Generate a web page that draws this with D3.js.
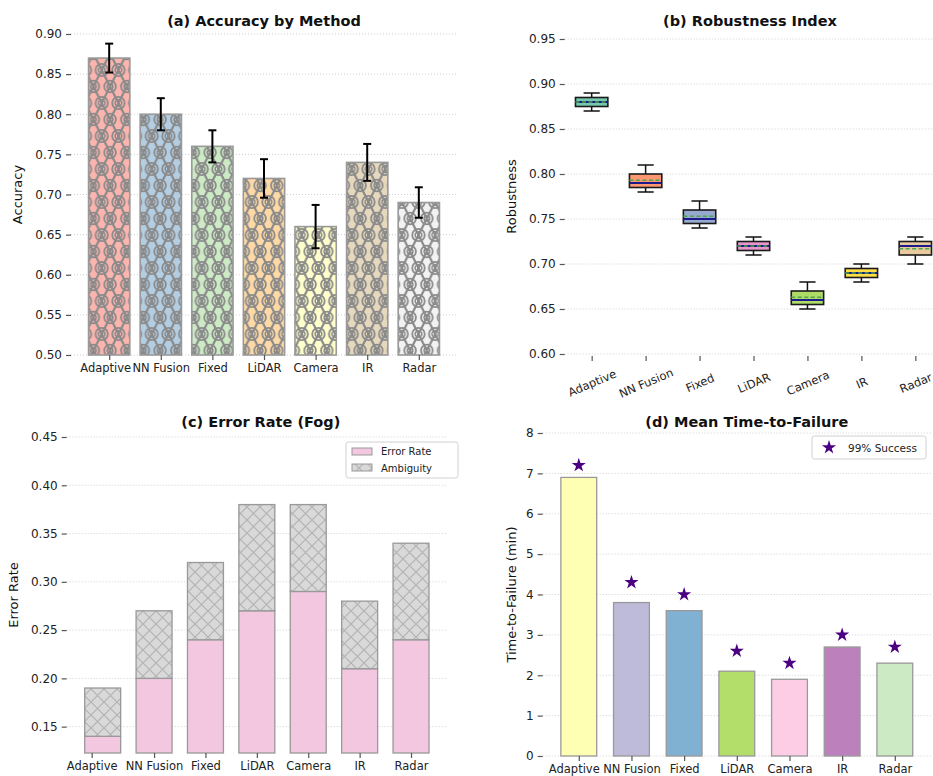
<!DOCTYPE html>
<html>
<head>
<meta charset="utf-8">
<script src="https://cdn.jsdelivr.net/npm/d3@7"></script>
<style>
  html, body { margin: 0; padding: 0; background: #ffffff; }
  svg { display: block; font-family: "DejaVu Sans", Verdana, sans-serif; }
</style>
</head>
<body>
<svg id="chart" width="933" height="776"></svg>
<script>
// ---- data ----
const methods = ["Adaptive", "NN Fusion", "Fixed", "LiDAR", "Camera", "IR", "Radar"];

// (a) accuracy with error bars
const accuracy    = [0.87, 0.80, 0.76, 0.72, 0.66, 0.74, 0.69];
const accuracyErr = [0.018, 0.020, 0.020, 0.024, 0.027, 0.023, 0.019];
const accuracyTicks = [0.50, 0.55, 0.60, 0.65, 0.70, 0.75, 0.80, 0.85, 0.90];
const accuracyColors = ["#fbb4ae", "#b3cde3", "#ccebc5", "#fed9a6", "#ffffcc", "#e5d8bd", "#f2f2f2"];

// (b) robustness box statistics
const robustLow    = [0.870, 0.780, 0.740, 0.710, 0.650, 0.680, 0.700];
const robustQ1     = [0.875, 0.785, 0.745, 0.715, 0.655, 0.685, 0.710];
const robustMedian = [0.880, 0.790, 0.750, 0.720, 0.660, 0.690, 0.720];
const robustQ3     = [0.885, 0.800, 0.760, 0.725, 0.670, 0.695, 0.725];
const robustHigh   = [0.890, 0.810, 0.770, 0.730, 0.680, 0.700, 0.730];
const robustMean   = [0.880, 0.793, 0.753, 0.720, 0.663, 0.690, 0.717];
const robustTicks  = [0.60, 0.65, 0.70, 0.75, 0.80, 0.85, 0.90, 0.95];
const robustColors = ["#66c2a5", "#fc8d62", "#8da0cb", "#e78ac3", "#a6d854", "#ffd92f", "#e5c494"];

// (c) error rate in fog, stacked with ambiguity
const errorRate = [0.14, 0.20, 0.24, 0.27, 0.29, 0.21, 0.24];
const ambiguity = [0.05, 0.07, 0.08, 0.11, 0.09, 0.07, 0.10];
const errorTicks = [0.15, 0.20, 0.25, 0.30, 0.35, 0.40, 0.45];

// (d) mean time-to-failure and 99% success markers
const timeToFailure = [6.9, 3.8, 3.6, 2.1, 1.9, 2.7, 2.3];
const success99     = [7.2, 4.3, 4.0, 2.6, 2.3, 3.0, 2.7];
const ttfTicks = [0, 1, 2, 3, 4, 5, 6, 7, 8];
const ttfColors = ["#ffffb3", "#bebada", "#80b1d3", "#b3de69", "#fccde5", "#bc80bd", "#ccebc5"];

// ---- drawing ----
const svg = d3.select("#chart");
const defs = svg.append("defs");
const hatchGrey = "#8a8a8a";

// ring / lattice hatch used on the accuracy bars
const pw = 16.67, ph = 33;
const pat = defs.append("pattern").attr("id", "ringHatch")
  .attr("patternUnits", "userSpaceOnUse").attr("width", pw).attr("height", ph)
  .attr("patternTransform", "translate(-6.6,4)");
pat.append("path")
  .attr("d", `M${pw/2},0 L0,${ph/2} M${pw/2},0 L${pw},${ph/2} M0,${ph/2} L${pw/2},${ph} M${pw},${ph/2} L${pw/2},${ph}`)
  .attr("stroke", hatchGrey).attr("stroke-width", 2.2).attr("fill", "none");
[[pw/2, 0], [pw/2, ph]].forEach(([cx, cy]) => {
  pat.append("circle").attr("cx", cx).attr("cy", cy).attr("r", 6.2).attr("fill", "none").attr("stroke", hatchGrey).attr("stroke-width", 1.8);
  pat.append("circle").attr("cx", cx).attr("cy", cy).attr("r", 3.3).attr("fill", "none").attr("stroke", hatchGrey).attr("stroke-width", 1.5);
  pat.append("circle").attr("cx", cx).attr("cy", cy).attr("r", 1.2).attr("fill", hatchGrey);
});
[[0, ph/2], [pw, ph/2]].forEach(([cx, cy]) => {
  pat.append("circle").attr("cx", cx).attr("cy", cy).attr("r", 5.8).attr("fill", "none").attr("stroke", hatchGrey).attr("stroke-width", 1.8);
  pat.append("circle").attr("cx", cx).attr("cy", cy).attr("r", 2.8).attr("fill", "none").attr("stroke", hatchGrey).attr("stroke-width", 1.5);
});

// cross hatch for the ambiguity segment
const xs = 13;
const xpat = defs.append("pattern").attr("id", "crossHatch")
  .attr("patternUnits", "userSpaceOnUse").attr("width", xs).attr("height", xs);
xpat.append("rect").attr("width", xs).attr("height", xs).attr("fill", "#d9d9d9");
xpat.append("path").attr("d", `M0,0 L${xs},${xs} M${xs},0 L0,${xs}`)
  .attr("stroke", "#b3b3b3").attr("stroke-width", 1.2);

// shared axis helpers
function yAxisGrid(g, y, ticks, x0, x1, fmt) {
  g.append("g").selectAll("line").data(ticks).join("line")
    .attr("x1", x0).attr("x2", x1)
    .attr("y1", d => y(d)).attr("y2", d => y(d))
    .attr("stroke", "#cfcfcf").attr("stroke-width", 1).attr("stroke-dasharray", "1,2");
  const ax = g.append("g").attr("transform", `translate(${x0},0)`)
    .call(d3.axisLeft(y).tickValues(ticks).tickFormat(fmt).tickSize(5).tickPadding(4));
  ax.select(".domain").remove();
  ax.selectAll(".tick line").attr("stroke", "#555").attr("stroke-width", 1.2);
  ax.selectAll(".tick text").attr("fill", "#222").style("font-size", "12px")
    .style("font-family", "DejaVu Sans, sans-serif");
}
// firstShift nudges the first category label (and optionally its tick) left
function xTicks(g, x, yBase, labels, rotate, firstShift, shiftTick) {
  const ax = g.append("g").attr("transform", `translate(0,${yBase})`)
    .call(d3.axisBottom(x).tickValues(d3.range(labels.length).map(i => rotate ? i + 1 : i))
      .tickFormat((d, i) => labels[i]).tickSize(5).tickPadding(4));
  ax.select(".domain").remove();
  ax.selectAll(".tick line").attr("stroke", "#555").attr("stroke-width", 1.2);
  const t = ax.selectAll(".tick text").attr("fill", "#222").style("font-size", "11.5px")
    .style("font-family", "DejaVu Sans, sans-serif");
  if (rotate) {
    t.attr("text-anchor", "middle").attr("dy", null).attr("y", null)
      .attr("dominant-baseline", "central")
      .attr("transform", "translate(0,27) rotate(-23)");
  } else if (firstShift) {
    t.filter((d, i) => i === 0).attr("x", firstShift);
    if (shiftTick) ax.selectAll(".tick line").filter((d, i) => i === 0).attr("x1", firstShift).attr("x2", firstShift);
  }
}
function title(text, cx, y) {
  svg.append("text").attr("x", cx).attr("y", y).attr("text-anchor", "middle")
    .style("font-size", "14.5px").style("font-weight", "bold").attr("fill", "#111").text(text);
}
function yLabel(text, x, cy) {
  svg.append("text").attr("transform", `translate(${x},${cy}) rotate(-90)`)
    .attr("text-anchor", "middle").style("font-size", "13px").attr("fill", "#111").text(text);
}
const fmt2 = d3.format(".2f");

// ---------- (a) Accuracy by Method ----------
{
  const L = 71, R = 457, T = 34, B = 355;
  const x = d3.scaleLinear().domain([-0.74, 6.74]).range([L, R]);
  const y = d3.scaleLinear().domain([0.50, 0.90]).range([B, T]);
  const g = svg.append("g");
  yAxisGrid(g, y, accuracyTicks, L, R, fmt2);
  const bars = g.append("g").selectAll("g").data(methods).join("g");
  bars.append("rect")
    .attr("x", (d, i) => x(i - 0.4)).attr("width", (d, i) => x(i + 0.4) - x(i - 0.4))
    .attr("y", (d, i) => y(accuracy[i])).attr("height", (d, i) => y(0.5) - y(accuracy[i]))
    .attr("fill", (d, i) => accuracyColors[i]);
  bars.append("rect")
    .attr("x", (d, i) => x(i - 0.4)).attr("width", (d, i) => x(i + 0.4) - x(i - 0.4))
    .attr("y", (d, i) => y(accuracy[i])).attr("height", (d, i) => y(0.5) - y(accuracy[i]))
    .attr("fill", "url(#ringHatch)").attr("stroke", "#999").attr("stroke-width", 1.6);
  const eb = g.append("g").selectAll("g").data(methods).join("g");
  eb.append("line")
    .attr("x1", (d, i) => x(i)).attr("x2", (d, i) => x(i))
    .attr("y1", (d, i) => y(accuracy[i] + accuracyErr[i])).attr("y2", (d, i) => y(accuracy[i] - accuracyErr[i]))
    .attr("stroke", "#000").attr("stroke-width", 2);
  [1, -1].forEach(s => {
    eb.append("line")
      .attr("x1", (d, i) => x(i) - 4).attr("x2", (d, i) => x(i) + 4)
      .attr("y1", (d, i) => y(accuracy[i] + s * accuracyErr[i])).attr("y2", (d, i) => y(accuracy[i] + s * accuracyErr[i]))
      .attr("stroke", "#000").attr("stroke-width", 2);
  });
  xTicks(g, x, B, methods, false, -4, false);
  title("(a) Accuracy by Method", (L + R) / 2, 26);
  yLabel("Accuracy", 22, (T + B) / 2);
}

// ---------- (b) Robustness Index ----------
{
  const L = 564.7, R = 942.3, T = 39, B = 354;
  const x = d3.scaleLinear().domain([0.5, 7.5]).range([L, R]);
  const y = d3.scaleLinear().domain([0.60, 0.95]).range([B, T]);
  const g = svg.append("g");
  yAxisGrid(g, y, robustTicks, L, R, fmt2);
  const hw = 0.3, cw = 0.15;
  const box = g.append("g").selectAll("g").data(methods).join("g");
  box.append("line").attr("x1", (d, i) => x(i + 1)).attr("x2", (d, i) => x(i + 1))
    .attr("y1", (d, i) => y(robustHigh[i])).attr("y2", (d, i) => y(robustQ3[i]))
    .attr("stroke", "#111").attr("stroke-width", 1.5);
  box.append("line").attr("x1", (d, i) => x(i + 1)).attr("x2", (d, i) => x(i + 1))
    .attr("y1", (d, i) => y(robustLow[i])).attr("y2", (d, i) => y(robustQ1[i]))
    .attr("stroke", "#111").attr("stroke-width", 1.5);
  [robustHigh, robustLow].forEach(arr => {
    box.append("line").attr("x1", (d, i) => x(i + 1 - cw)).attr("x2", (d, i) => x(i + 1 + cw))
      .attr("y1", (d, i) => y(arr[i])).attr("y2", (d, i) => y(arr[i]))
      .attr("stroke", "#111").attr("stroke-width", 1.5);
  });
  box.append("rect")
    .attr("x", (d, i) => x(i + 1 - hw)).attr("width", (d, i) => x(i + 1 + hw) - x(i + 1 - hw))
    .attr("y", (d, i) => y(robustQ3[i])).attr("height", (d, i) => y(robustQ1[i]) - y(robustQ3[i]))
    .attr("fill", (d, i) => robustColors[i]).attr("fill-opacity", 0.9)
    .attr("stroke", "#1a1a1a").attr("stroke-width", 1.6);
  box.append("line").attr("x1", (d, i) => x(i + 1 - hw)).attr("x2", (d, i) => x(i + 1 + hw))
    .attr("y1", (d, i) => y(robustMedian[i])).attr("y2", (d, i) => y(robustMedian[i]))
    .attr("stroke", "#1a1a8c").attr("stroke-width", 2);
  box.append("line").attr("x1", (d, i) => x(i + 1 - hw)).attr("x2", (d, i) => x(i + 1 + hw))
    .attr("y1", (d, i) => y(robustMean[i])).attr("y2", (d, i) => y(robustMean[i]))
    .attr("stroke", "#4fa64a").attr("stroke-width", 1.6).attr("stroke-dasharray", "4,2.5");
  xTicks(g, x, B + 2, methods, true);
  title("(b) Robustness Index", 750, 26);
  yLabel("Robustness", 516, (T + B) / 2);
}

// ---------- (c) Error Rate (Fog) ----------
{
  const L = 66.7, R = 447, T = 437, B = 753;
  const x = d3.scaleLinear().domain([-0.7, 6.7]).range([L, R]);
  const y = d3.scaleLinear().domain([0.1227, 0.45]).range([B, T]);
  const g = svg.append("g");
  yAxisGrid(g, y, errorTicks, L, R, fmt2);
  const bw = 0.35;
  const bars = g.append("g").selectAll("g").data(methods).join("g");
  bars.append("rect")
    .attr("x", (d, i) => x(i - bw)).attr("width", (d, i) => x(i + bw) - x(i - bw))
    .attr("y", (d, i) => y(errorRate[i])).attr("height", (d, i) => B - y(errorRate[i]))
    .attr("fill", "#f4c7e1").attr("stroke", "#999").attr("stroke-width", 1.3);
  bars.append("rect")
    .attr("x", (d, i) => x(i - bw)).attr("width", (d, i) => x(i + bw) - x(i - bw))
    .attr("y", (d, i) => y(errorRate[i] + ambiguity[i])).attr("height", (d, i) => y(errorRate[i]) - y(errorRate[i] + ambiguity[i]))
    .attr("fill", "url(#crossHatch)").attr("stroke", "#999").attr("stroke-width", 1.3);
  xTicks(g, x, B, methods, false, -11, true);
  title("(c) Error Rate (Fog)", (L + R) / 2 + 4, 427);
  yLabel("Error Rate", 18, (T + B) / 2);

  // legend
  const lg = svg.append("g").attr("transform", "translate(346,442)");
  lg.append("rect").attr("width", 112).attr("height", 36).attr("rx", 2.5)
    .attr("fill", "#fff").attr("stroke", "#d0d0d0").attr("stroke-width", 1);
  lg.append("rect").attr("x", 6).attr("y", 6).attr("width", 20).attr("height", 7)
    .attr("fill", "#f4c7e1").attr("stroke", "#999").attr("stroke-width", 1);
  lg.append("rect").attr("x", 6).attr("y", 22).attr("width", 20).attr("height", 7)
    .attr("fill", "url(#crossHatch)").attr("stroke", "#999").attr("stroke-width", 1);
  lg.append("text").attr("x", 35).attr("y", 13).style("font-size", "10px").attr("fill", "#222").text("Error Rate");
  lg.append("text").attr("x", 35).attr("y", 29.5).style("font-size", "10px").attr("fill", "#222").text("Ambiguity");
}

// ---------- (d) Mean Time-to-Failure ----------
{
  const L = 542.7, R = 930.9, T = 433, B = 756;
  const x = d3.scaleLinear().domain([-0.685, 6.685]).range([L, R]);
  const y = d3.scaleLinear().domain([0, 8]).range([B, T]);
  const g = svg.append("g");
  yAxisGrid(g, y, ttfTicks, L, R, d3.format("d"));
  const bw = 0.34;
  g.append("g").selectAll("rect").data(methods).join("rect")
    .attr("x", (d, i) => x(i - bw)).attr("width", (d, i) => x(i + bw) - x(i - bw))
    .attr("y", (d, i) => y(timeToFailure[i])).attr("height", (d, i) => y(0) - y(timeToFailure[i]))
    .attr("fill", (d, i) => ttfColors[i]).attr("stroke", "#999").attr("stroke-width", 1.3);
  const star = d3.symbol().type(d3.symbolStar).size(62);
  g.append("g").selectAll("path").data(methods).join("path")
    .attr("d", star)
    .attr("transform", (d, i) => `translate(${x(i)},${y(success99[i])})`)
    .attr("fill", "#4b0082");
  xTicks(g, x, B, methods, false, -5, false);
  title("(d) Mean Time-to-Failure", (L + R) / 2 + 10, 427);
  yLabel("Time-to-Failure (min)", 516, (T + B) / 2);

  const lg = svg.append("g").attr("transform", "translate(812,436)");
  lg.append("rect").attr("width", 114).attr("height", 23).attr("rx", 2.5)
    .attr("fill", "#fff").attr("stroke", "#d0d0d0").attr("stroke-width", 1);
  lg.append("path").attr("d", star).attr("transform", "translate(17,11.5)").attr("fill", "#4b0082");
  lg.append("text").attr("x", 36).attr("y", 15.5).style("font-size", "10.5px").attr("fill", "#222").text("99% Success");
}
</script>
</body>
</html>
